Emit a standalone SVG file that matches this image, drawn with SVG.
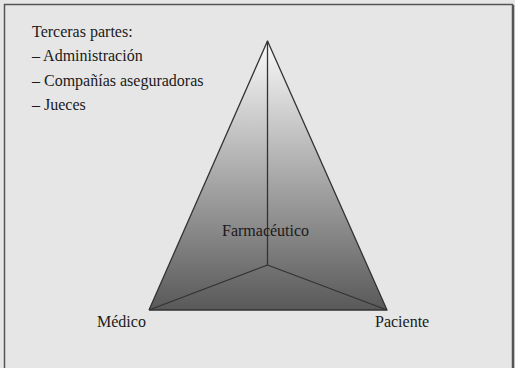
<svg xmlns="http://www.w3.org/2000/svg" width="515" height="368" viewBox="0 0 515 368">
<defs>
<linearGradient id="g" x1="0" y1="41" x2="0" y2="310" gradientUnits="userSpaceOnUse">
<stop offset="0" stop-color="#fafafa"/>
<stop offset="1" stop-color="#595959"/>
</linearGradient>
</defs>
<style>
text{font-family:'Liberation Serif','DejaVu Serif',serif;font-size:16px;fill:#1a1a1a}
.edge{stroke:#333;stroke-width:1.3;fill:none;stroke-linejoin:round}
</style>
<rect x="0" y="0" width="515" height="368" fill="#e6e6e6"/>
<rect x="4.5" y="4.5" width="508" height="372" fill="#e6e6e6" stroke="#555" stroke-width="1.5"/>
<line x1="513.5" y1="5" x2="513.5" y2="368" stroke="#555" stroke-width="1.5"/>
<g id="third-parties">
<text x="32" y="37">Terceras partes:</text>
<text x="32" y="61">– Administración</text>
<text x="32" y="86">– Compañías aseguradoras</text>
<text x="32" y="110">– Jueces</text>
</g>
<g id="pyramid">
<polygon points="267.5,41 149,310 387,310" fill="url(#g)"/>
</g>
<g id="connectors">
<polyline class="edge" points="149,310 267.5,41 387,310 149,310"/>
<line class="edge" x1="267.5" y1="41" x2="267.5" y2="265"/>
<line class="edge" x1="149" y1="310" x2="267.5" y2="265"/>
<line class="edge" x1="387" y1="310" x2="267.5" y2="265"/>
</g>
<g id="farmaceutico"><text x="222" y="236">Farmacéutico</text></g>
<g id="medico"><text x="97" y="327">Médico</text></g>
<g id="paciente"><text x="375" y="327">Paciente</text></g>
</svg>
